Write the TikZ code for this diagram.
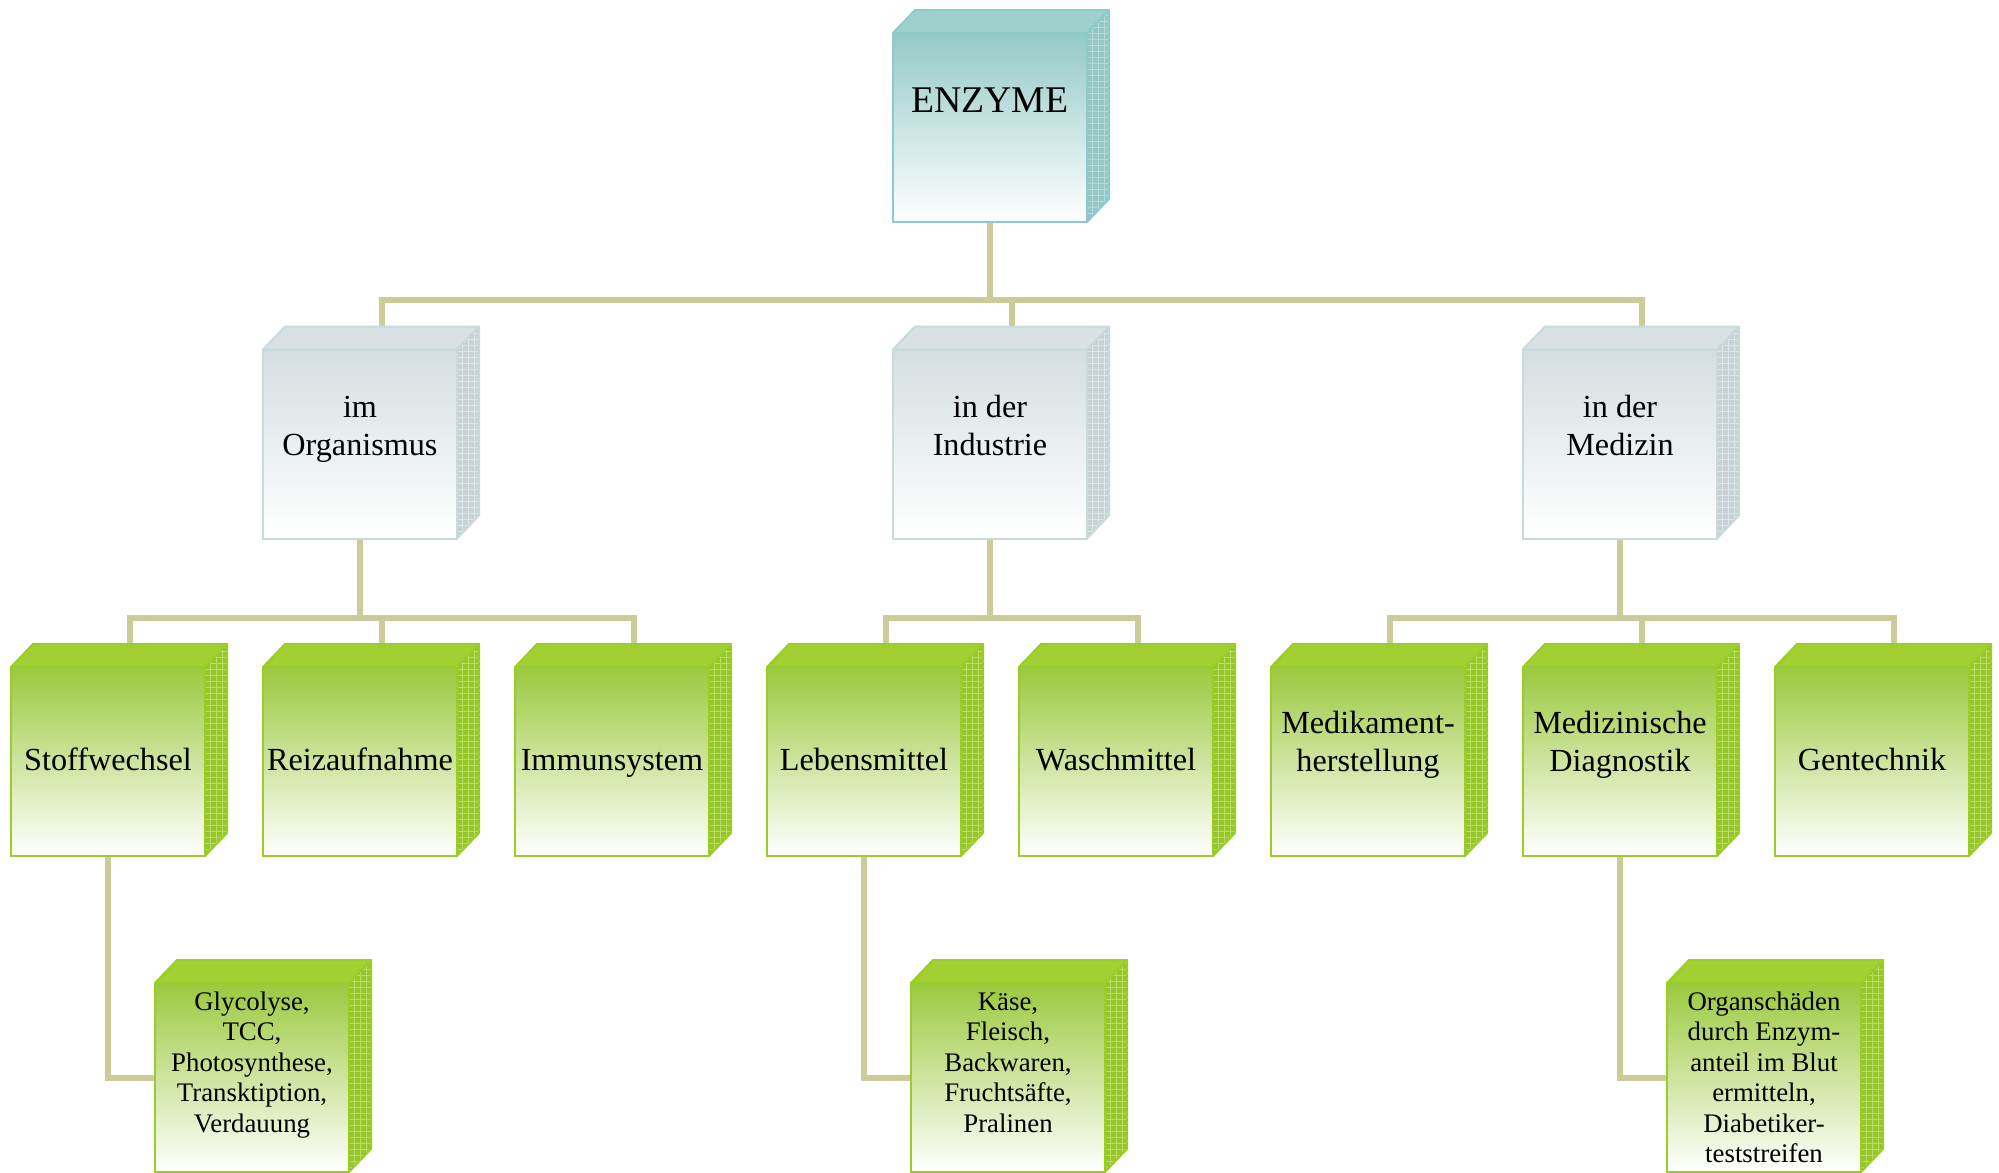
\documentclass[tikz,border=0pt]{standalone}
\usepackage{fontspec}
\setmainfont{Liberation Serif}
\usetikzlibrary{calc,patterns,backgrounds}

\definecolor{conncol}{RGB}{204,204,155}
\definecolor{tealtop}{RGB}{147,201,199}
\definecolor{tealedge}{RGB}{140,204,200}
\definecolor{tealface}{RGB}{158,208,206}
\definecolor{tealside}{RGB}{150,198,197}
\definecolor{tealpat}{RGB}{180,218,217}
\definecolor{graytop}{RGB}{212,222,224}
\definecolor{grayedge}{RGB}{200,218,218}
\definecolor{grayface}{RGB}{216,226,228}
\definecolor{grayside}{RGB}{200,210,212}
\definecolor{graypat}{RGB}{222,230,231}
\definecolor{greentop}{RGB}{155,201,62}
\definecolor{greenedge}{RGB}{153,205,40}
\definecolor{greenface}{RGB}{162,208,50}
\definecolor{greenside}{RGB}{150,198,40}
\definecolor{greenpat}{RGB}{185,220,110}

\tikzset{
  frontbox/.style={rectangle, minimum width=97pt, minimum height=94.5pt,
    inner sep=0pt, outer sep=0pt, line width=1pt},
  tealbox/.style={frontbox, draw=tealedge, top color=tealtop, bottom color=white},
  graybox/.style={frontbox, draw=grayedge, top color=graytop, bottom color=white},
  greenbox/.style={frontbox, draw=greenedge, top color=greentop, bottom color=white},
  conn/.style={draw=conncol, line width=3pt, line join=miter},
  lab/.style={anchor=base, align=center, inner sep=0pt, outer sep=0pt},
  fontA/.style={font=\fontsize{18.85}{22}\selectfont},
  fontB/.style={font=\fontsize{16.1}{18.75}\selectfont},
  fontC/.style={font=\fontsize{13.4}{15.25}\selectfont}
}

% #1 node name, #2 face colour, #3 side colour, #4 pattern colour, #5 edge colour
\newcommand\cubefaces[5]{%
  \path[fill=#2, draw=#5, line width=1pt, line join=round]
    (#1.north west) -- ++(22,-23) -- ($(#1.north east)+(22,-23)$) -- (#1.north east) -- cycle;
  \path[preaction={fill=#3}, pattern=grid, pattern color=#4, draw=#5, line width=1pt, line join=round]
    (#1.north east) -- ++(22,-23) -- ($(#1.south east)+(22,-23)$) -- (#1.south east) -- cycle;
  \coordinate (#1-top) at ($(#1.north)+(22,-23)$);
}

\begin{document}
\begin{tikzpicture}[x=0.5pt, y=-0.5pt]
\useasboundingbox (0,0) rectangle (1999,1173);

% level 1
\node[tealbox] (enz) at (990,127.5) {};
\cubefaces{enz}{tealface}{tealside}{tealpat}{tealedge}
\node[lab, fontA] (tenz) at (990,112) {ENZYME};

% level 2
\node[graybox] (org) at (360,444) {};
\node[graybox] (ind) at (990,444) {};
\node[graybox] (med) at (1620,444) {};
\cubefaces{org}{grayface}{grayside}{graypat}{grayedge}
\cubefaces{ind}{grayface}{grayside}{graypat}{grayedge}
\cubefaces{med}{grayface}{grayside}{graypat}{grayedge}
\node[lab, fontB] (torg) at (360,455) {im\\Organismus};
\node[lab, fontB] (tind) at (990,455) {in der\\Industrie};
\node[lab, fontB] (tmed) at (1620,455) {in der\\Medizin};

% level 3
\node[greenbox] (stoff) at (108,761.5) {};
\node[greenbox] (reiz) at (360,761.5) {};
\node[greenbox] (imm) at (612,761.5) {};
\node[greenbox] (leb) at (864,761.5) {};
\node[greenbox] (wasch) at (1116,761.5) {};
\node[greenbox] (medi) at (1368,761.5) {};
\node[greenbox] (diag) at (1620,761.5) {};
\node[greenbox] (gen) at (1872,761.5) {};
\foreach \n in {stoff,reiz,imm,leb,wasch,medi,diag,gen}{
  \cubefaces{\n}{greenface}{greenside}{greenpat}{greenedge}
}
\node[lab, fontB] (tstoff) at (108,770) {Stoffwechsel};
\node[lab, fontB] (treiz) at (360,770) {Reizaufnahme};
\node[lab, fontB] (timm) at (612,770) {Immunsystem};
\node[lab, fontB] (tleb) at (864,770) {Lebensmittel};
\node[lab, fontB] (twasch) at (1116,770) {Waschmittel};
\node[lab, fontB] (tmedi) at (1368,771) {Medikament-\\herstellung};
\node[lab, fontB] (tdiag) at (1620,771) {Medizinische\\Diagnostik};
\node[lab, fontB] (tgen) at (1872,770) {Gentechnik};

% level 4
\node[greenbox] (glyc) at (252,1077.5) {};
\node[greenbox] (kase) at (1008,1077.5) {};
\node[greenbox] (organ) at (1764,1077.5) {};
\foreach \n in {glyc,kase,organ}{
  \cubefaces{\n}{greenface}{greenside}{greenpat}{greenedge}
}
\node[lab, fontC] (tglyc) at (252,1132) {Glycolyse,\\TCC,\\Photosynthese,\\Transktiption,\\Verdauung};
\node[lab, fontC] (tkase) at (1008,1132) {Käse,\\Fleisch,\\Backwaren,\\Fruchtsäfte,\\Pralinen};
\node[lab, fontC] (torgan) at (1764,1162.5) {Organschäden\\durch Enzym-\\anteil im Blut\\ermitteln,\\Diabetiker-\\teststreifen};

% connectors
\begin{scope}[on background layer]
  \coordinate (bus1) at (990,300);
  \coordinate (bus2a) at (360,618);
  \coordinate (bus2b) at (990,618);
  \coordinate (bus2c) at (1620,618);
  \draw[conn] (enz.south) -- (bus1);
  \draw[conn] (org-top) |- (bus1);
  \draw[conn] (ind-top) |- (bus1);
  \draw[conn] (med-top) |- (bus1);
  \draw[conn] (org.south) -- (bus2a);
  \draw[conn] (stoff-top) |- (bus2a);
  \draw[conn] (reiz-top) |- (bus2a);
  \draw[conn] (imm-top) |- (bus2a);
  \draw[conn] (ind.south) -- (bus2b);
  \draw[conn] (leb-top) |- (bus2b);
  \draw[conn] (wasch-top) |- (bus2b);
  \draw[conn] (med.south) -- (bus2c);
  \draw[conn] (medi-top) |- (bus2c);
  \draw[conn] (diag-top) |- (bus2c);
  \draw[conn] (gen-top) |- (bus2c);
  \draw[conn] (stoff.south) |- (glyc.west);
  \draw[conn] (leb.south) |- (kase.west);
  \draw[conn] (diag.south) |- (organ.west);
\end{scope}
\end{tikzpicture}
\end{document}
